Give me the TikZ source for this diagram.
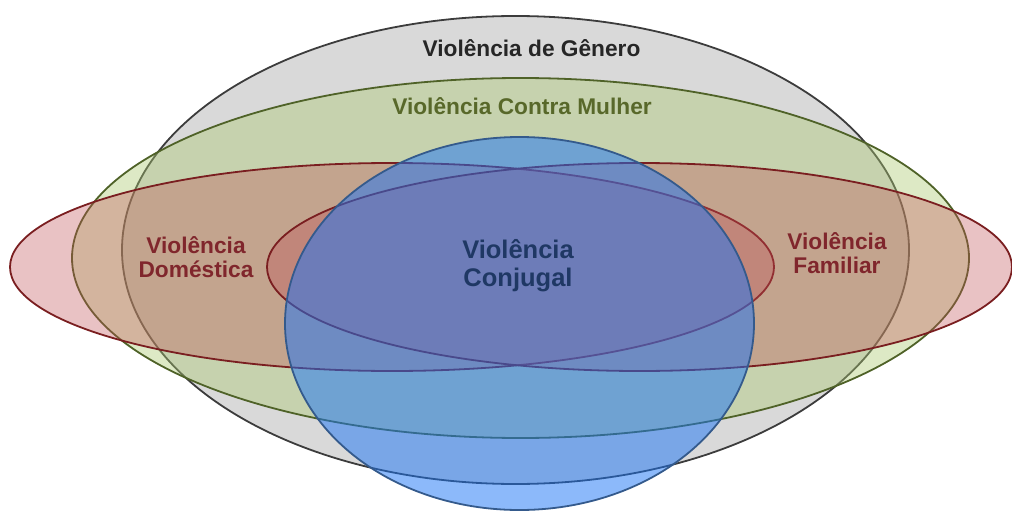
\documentclass[tikz,border=0pt]{standalone}
\usepackage{fontspec}
\setmainfont{Liberation Sans}
\usetikzlibrary{positioning}

\definecolor{generoFill}{RGB}{217,217,217}
\definecolor{generoLine}{RGB}{60,60,60}
\definecolor{generoText}{RGB}{38,38,38}
\definecolor{mulherFill}{RGB}{170,200,110}
\definecolor{mulherLine}{RGB}{79,98,40}
\definecolor{mulherText}{RGB}{88,104,42}
\definecolor{familiaFill}{RGB}{192,80,85}
\definecolor{familiaLine}{RGB}{122,30,32}
\definecolor{familiaText}{RGB}{128,38,44}
\definecolor{conjugalFill}{RGB}{26,116,246}
\definecolor{conjugalLine}{RGB}{52,90,140}
\definecolor{conjugalText}{RGB}{31,56,100}

\begin{document}
\begin{tikzpicture}[x=1pt,y=-1pt,line width=1.8pt,
    txt/.style={font=\bfseries\fontsize{22.7}{24}\selectfont,align=center,inner sep=0pt}]
        \tikzstyle{genero}=[draw=generoLine, fill=generoFill]
        \tikzstyle{mulher}=[draw=mulherLine, fill=mulherFill, fill opacity=0.4]
        \tikzstyle{familia}=[draw=familiaLine, fill=familiaFill, fill opacity=0.35]
        \tikzstyle{conjugal}=[draw=conjugalLine, fill=conjugalFill, fill opacity=0.5]

        \useasboundingbox (0,0) rectangle (1012,511);

        % sets, from the widest to the top one
        \path[genero]   (515.5,250) ellipse [x radius=393.5, y radius=234];
        \path[mulher]   (520.5,258) ellipse [x radius=448.5, y radius=180];
        \path[familia]  (392,267)   ellipse [x radius=382,   y radius=104];
        \path[familia]  (639.5,267) ellipse [x radius=372.5, y radius=104];
        \path[conjugal] (519.5,323.5) ellipse [x radius=234.5, y radius=186.5];

        % labels
        \node[txt, text=generoText, anchor=base] (G) at (531.5,57) {Violência de Gênero};
        \node[txt, text=mulherText, anchor=base] (M) at (522,114) {Violência Contra Mulher};
        \node[txt, text=familiaText] (D) at (196,257) {Violência\\Doméstica};
        \node[txt, text=familiaText] (F) at (837,253) {Violência\\Familiar};
        \node[txt, text=conjugalText, font=\bfseries\fontsize{25.5}{28}\selectfont] (C) at (518,265.5) {Violência\\Conjugal};
      \end{tikzpicture}
\end{document}
